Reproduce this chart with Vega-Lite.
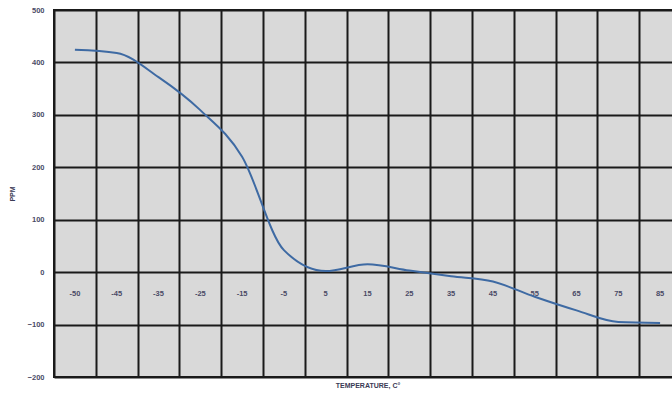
{
  "$schema": "https://vega.github.io/schema/vega-lite/v6.json",
  "width": 627,
  "height": 367,
  "padding": {"left": 8, "top": 6, "right": 5, "bottom": 5},
  "background": "white",
  "config": {
    "view": {"fill": "#d9d9d9", "stroke": "#1a1a1a", "strokeWidth": 2},
    "font": "Liberation Sans"
  },
  "data": {
    "values": [
      {"temp": "-50", "ppm": 424},
      {"temp": "-45", "ppm": 418},
      {"temp": "-35", "ppm": 372},
      {"temp": "-25", "ppm": 309},
      {"temp": "-15", "ppm": 220},
      {"temp": "-5", "ppm": 42},
      {"temp": "5", "ppm": 2},
      {"temp": "15", "ppm": 15},
      {"temp": "25", "ppm": 3},
      {"temp": "35", "ppm": -8},
      {"temp": "45", "ppm": -18},
      {"temp": "55", "ppm": -47},
      {"temp": "65", "ppm": -73},
      {"temp": "75", "ppm": -95},
      {"temp": "85", "ppm": -97}
    ]
  },
  "resolve": {"axis": {"x": "independent"}},
  "layer": [
    {
      "mark": {"type": "line", "color": "#3e6aa3", "strokeWidth": 2, "interpolate": "monotone"},
      "encoding": {
        "x": {
          "field": "temp", "type": "ordinal", "sort": null,
          "scale": {"type": "band", "paddingInner": 0, "paddingOuter": 0},
          "axis": {
            "orient": "bottom",
            "title": "TEMPERATURE, C°", "titleFontSize": 7, "titleFontWeight": "bold", "titleColor": "#3a3a55", "titlePadding": 4,
            "labels": false, "ticks": false, "domain": false,
            "grid": true, "tickBand": "extent", "gridColor": "#1a1a1a", "gridWidth": 2, "gridOpacity": 1
          }
        },
        "y": {
          "field": "ppm", "type": "quantitative",
          "scale": {"domain": [-200, 500], "nice": false},
          "axis": {
            "title": "PPM", "titleFontSize": 7, "titleFontWeight": "bold", "titleColor": "#3a3a55", "titlePadding": 12,
            "values": [-200, -100, 0, 100, 200, 300, 400, 500],
            "labelFontSize": 7.5, "labelFontWeight": "bold", "labelColor": "#4a4a66", "labelPadding": 10,
            "ticks": false, "domain": false,
            "grid": true, "gridColor": "#1a1a1a", "gridWidth": 2, "gridOpacity": 1
          }
        }
      }
    },
    {
      "mark": {"type": "line", "opacity": 0},
      "encoding": {
        "x": {
          "field": "temp", "type": "ordinal", "sort": null,
          "axis": {
            "orient": "bottom",
            "title": null, "offset": -105, "labelPadding": 17, "labelFontSize": 7.5, "labelFontWeight": "bold", "labelColor": "#4a4a66", "labelAngle": 0,
            "ticks": false, "domain": false, "grid": false
          }
        },
        "y": {"field": "ppm", "type": "quantitative"}
      }
    }
  ]
}
